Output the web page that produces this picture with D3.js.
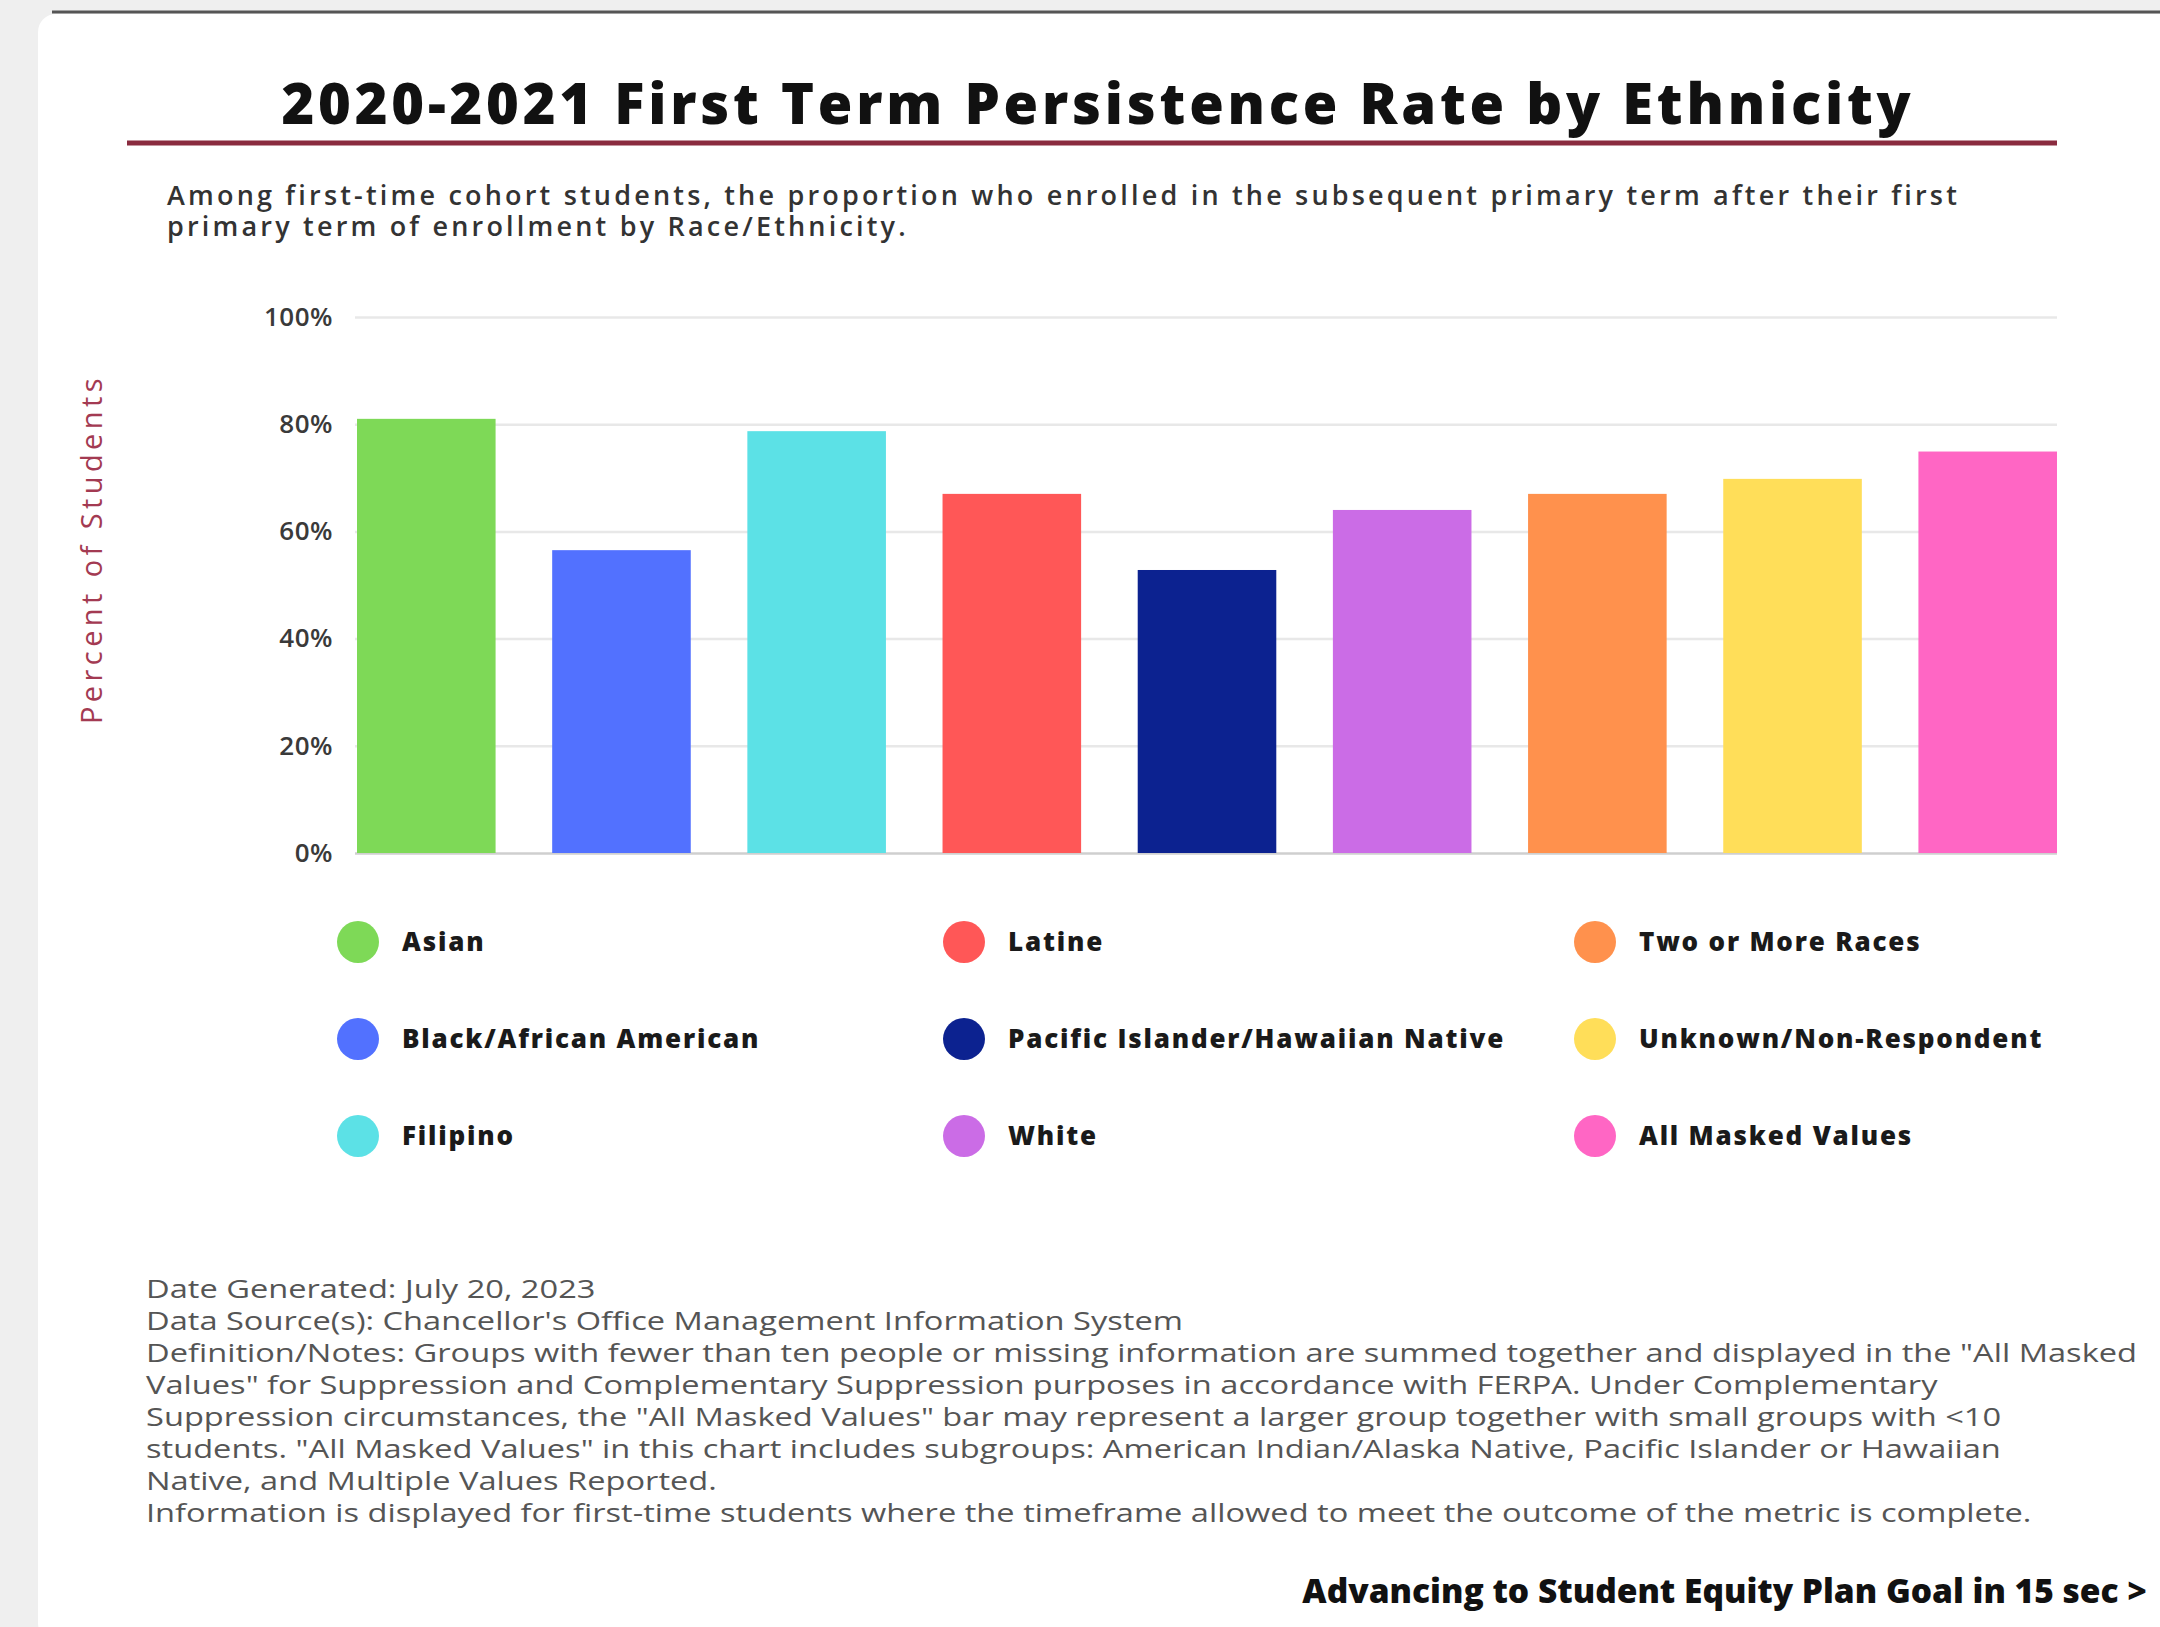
<!DOCTYPE html>
<html>
<head>
<meta charset="utf-8">
<script src="https://cdn.jsdelivr.net/npm/d3@7"></script>
<style>
  body { margin: 0; background: #efefef; }
  svg { display: block; }
</style>
</head>
<body>
<div id="chart"></div>
<script>
const categories = [
  "Asian",
  "Black/African American",
  "Filipino",
  "Latine",
  "Pacific Islander/Hawaiian Native",
  "White",
  "Two or More Races",
  "Unknown/Non-Respondent",
  "All Masked Values",
];
const rates = [81.0, 56.5, 78.7, 67.0, 52.8, 64.0, 67.0, 69.8, 74.9];
const colors = [
  "#7ed957", "#5271ff", "#5ce1e6", "#ff5757", "#0c2290",
  "#cb6ce6", "#ff914d", "#ffde59", "#ff66c4",
];
const yTicks = [0, 20, 40, 60, 80, 100];

const titleText = "2020-2021 First Term Persistence Rate by Ethnicity";
const subtitleLines = [
  "Among first-time cohort students, the proportion who enrolled in the subsequent primary term after their first",
  "primary term of enrollment by Race/Ethnicity.",
];
const yLabel = "Percent of Students";
const noteLines = [
  "Date Generated: July 20, 2023",
  "Data Source(s): Chancellor's Office Management Information System",
  "Definition/Notes: Groups with fewer than ten people or missing information are summed together and displayed in the \"All Masked",
  "Values\" for Suppression and Complementary Suppression  purposes in accordance with FERPA. Under Complementary",
  "Suppression circumstances, the \"All Masked Values\" bar may represent a larger group together with small groups with <10",
  "students. \"All Masked Values\" in this chart includes subgroups: American Indian/Alaska Native, Pacific Islander or Hawaiian",
  "Native, and Multiple Values Reported.",
  "Information is displayed for first-time students where the timeframe allowed to meet the outcome of the metric is complete.",
];
const advanceText = "Advancing to Student Equity Plan Goal in 15 sec >";

const W = 2160, H = 1627;
const plot = { left: 357, right: 2057, top: 317, bottom: 853 };
const headFont = "'Open Sans', Lato, sans-serif";

// stretch letter spacing so a text reaches the width seen in the picture
function fitSpacing(sel, target) {
  sel.each(function () {
    const len = this.getComputedTextLength();
    const n = this.textContent.length;
    d3.select(this).attr("letter-spacing", (target - len) / n);
  });
}

const svg = d3
  .select("#chart")
  .append("svg")
  .attr("width", W)
  .attr("height", H)
  .attr("font-family", headFont);

// page frame
svg.append("rect").attr("width", W).attr("height", H).attr("fill", "#efefef");
svg.append("rect")
  .attr("x", 38).attr("y", 14)
  .attr("width", W).attr("height", H)
  .attr("rx", 18)
  .attr("fill", "#fff");
svg.append("line")
  .attr("x1", 52).attr("x2", W)
  .attr("y1", 12).attr("y2", 12)
  .attr("stroke", "#555").attr("stroke-width", 3);

// title
const title = svg.append("text")
  .attr("x", 1098).attr("y", 124)
  .attr("text-anchor", "middle")
  .attr("font-size", 56)
  .attr("font-weight", 800)
  .attr("fill", "#111")
  .text(titleText);
fitSpacing(title, 1633);

svg.append("line")
  .attr("x1", 127).attr("x2", 2057)
  .attr("y1", 143).attr("y2", 143)
  .attr("stroke", "#8a2b3f").attr("stroke-width", 5);

const sub = svg.append("g")
  .selectAll("text")
  .data(subtitleLines)
  .join("text")
  .attr("x", 167)
  .attr("y", (d, i) => 205 + i * 31)
  .attr("font-size", 27)
  .attr("font-weight", 600)
  .attr("fill", "#333")
  .text((d) => d);
{
  const first = sub.filter((d, i) => i === 0).node();
  const ls = (1793 - first.getComputedTextLength()) / first.textContent.length;
  sub.attr("letter-spacing", ls);
}

// scales
const x = d3.scaleBand()
  .domain(categories)
  .range([plot.left, plot.right])
  .paddingInner(0.29)
  .paddingOuter(0);
const y = d3.scaleLinear().domain([0, 100]).range([plot.bottom, plot.top]);

// grid
svg.append("g")
  .attr("transform", `translate(${plot.left - 2},0)`)
  .call(d3.axisLeft(y).tickValues(yTicks).tickSize(-(plot.right - plot.left + 2)).tickFormat(""))
  .call((g) => g.select(".domain").remove())
  .call((g) => g.selectAll("line")
    .attr("stroke", (d) => (d === 0 ? "#cfcfcf" : "#e8e8e8"))
    .attr("stroke-width", 2.5));

// y axis labels
const yAxis = svg.append("g")
  .attr("transform", `translate(${plot.left},0)`)
  .call(d3.axisLeft(y).tickValues(yTicks).tickSize(0).tickPadding(24).tickFormat((d) => d + "%"))
  .call((g) => g.select(".domain").remove());
yAxis.selectAll("text")
  .attr("font-size", 26)
  .attr("font-weight", 600)
  .attr("font-family", headFont)
  .attr("fill", "#3a3a3a")
  .attr("letter-spacing", 0.5);

svg.append("text")
  .attr("transform", "translate(102,549) rotate(-90)")
  .attr("text-anchor", "middle")
  .attr("font-size", 29)
  .attr("font-weight", 500)
  .attr("fill", "#a33a52")
  .text(yLabel)
  .call((t) => fitSpacing(t, 350));

// bars
svg.append("g")
  .selectAll("rect")
  .data(categories)
  .join("rect")
  .attr("x", (d) => x(d))
  .attr("width", x.bandwidth())
  .attr("y", (d, i) => y(rates[i]))
  .attr("height", (d, i) => y(0) - y(rates[i]))
  .attr("fill", (d, i) => colors[i]);

// legend
const legendCols = [358, 964, 1595];
const legendRows = [942, 1039, 1136];
const legend = svg.append("g")
  .selectAll("g")
  .data(categories)
  .join("g")
  .attr("transform", (d, i) =>
    `translate(${legendCols[Math.floor(i / 3)]},${legendRows[i % 3]})`);
legend.append("circle").attr("r", 21).attr("fill", (d, i) => colors[i]);
const legendText = legend.append("text")
  .attr("x", 44)
  .attr("dy", "0.35em")
  .attr("font-size", 26)
  .attr("font-weight", 800)
  .attr("fill", "#1a1a1a")
  .text((d) => d);
{
  const longest = legendText.filter((d) => d === categories[4]).node();
  const ls = (497 - longest.getComputedTextLength()) / longest.textContent.length;
  legendText.attr("letter-spacing", ls);
}

// notes
const notes = svg.append("g").attr("transform", "translate(146,0)");
const noteText = notes.selectAll("text")
  .data(noteLines)
  .join("text")
  .attr("y", (d, i) => 1298 + i * 32)
  .attr("font-family", "'Open Sans', sans-serif")
  .attr("font-size", 26)
  .attr("fill", "#555")
  .text((d) => d);
{
  const ref = noteText.filter((d, i) => i === 2).node();
  const k = 1992 / ref.getComputedTextLength();
  notes.attr("transform", `translate(146,0) scale(${k},1)`);
}

const adv = svg.append("text")
  .attr("x", 2147).attr("y", 1603)
  .attr("text-anchor", "end")
  .attr("font-size", 30)
  .attr("font-weight", 800)
  .attr("fill", "#111")
  .text(advanceText);
{
  const len = adv.node().getComputedTextLength();
  adv.attr("font-size", 30 * 845 / len);
}
</script>
</body>
</html>
